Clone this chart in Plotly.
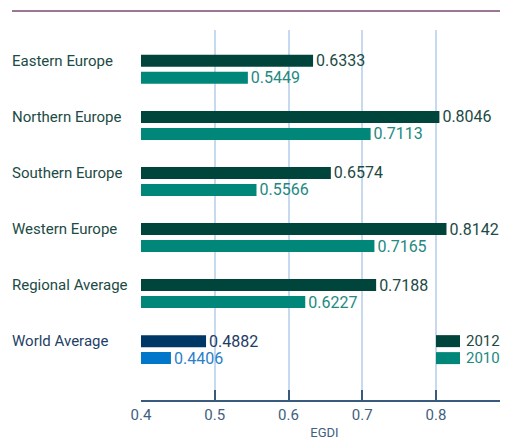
import plotly.graph_objects as go

categories = ['Eastern Europe', 'Northern Europe', 'Southern Europe',
              'Western Europe', 'Regional Average', 'World Average']
egdi_2012 = [0.6333, 0.8046, 0.6574, 0.8142, 0.7188, 0.4882]
egdi_2010 = [0.5449, 0.7113, 0.5566, 0.7165, 0.6227, 0.4406]
years = ['2012', '2010']

# colours: regional rows in greens, the world row in blues
bar_2012 = ['#00453b'] * 5 + ['#003865']
bar_2010 = ['#00877a'] * 5 + ['#0077c8']
txt_2012 = ['#1d4a45'] * 5 + ['#1e3d64']
txt_2010 = ['#23897f'] * 5 + ['#2a80c8']
label_colors = ['#1c4b45'] * 5 + ['#1e3f66']

FONT = 'Roboto'
BAR_W = 0.214

fig = go.Figure()
for vals, colors, tcolors, off in [(egdi_2012, bar_2012, txt_2012, -BAR_W / 2),
                                   (egdi_2010, bar_2010, txt_2010, 0.303 - BAR_W / 2)]:
    fig.add_trace(go.Bar(
        y=categories, x=vals, orientation='h',
        width=BAR_W, offset=off,
        marker=dict(color=colors, line=dict(width=0)),
        texttemplate='%{x:.4f}', textposition='outside',
        textfont=dict(family=FONT, size=16, color=tcolors),
        constraintext='none', cliponaxis=False,
        showlegend=False, hoverinfo='skip',
    ))

# category labels, left aligned
for cat, col in zip(categories, label_colors):
    fig.add_annotation(x=-0.357, xref='paper', y=cat, yref='y', text=cat,
                       showarrow=False, xanchor='left',
                       font=dict(family=FONT, size=15, color=col))

# legend drawn by hand next to the world row
for i, (yr, col, tcol) in enumerate(zip(years, [bar_2012[0], bar_2010[0]], [txt_2012[0], txt_2010[0]])):
    yc = 5 + i * 0.303
    fig.add_shape(type='rect', xref='x', yref='y', x0=0.8, x1=0.8325,
                  y0=yc - BAR_W / 2, y1=yc + BAR_W / 2,
                  fillcolor=col, line=dict(width=0))
    fig.add_annotation(x=0.8395, xref='x', y=yc, yref='y', text=yr, showarrow=False,
                       xanchor='left', borderpad=0,
                       font=dict(family=FONT, size=15, color=tcol))

# top rule
fig.add_shape(type='line', xref='paper', yref='paper', x0=-0.3515, x1=1, y0=1.0514, y1=1.0514,
              line=dict(color='#7a4a72', width=1.5))

# the page adds an 8px body margin, so the figure is 8px smaller than the window
fig.update_layout(
    width=500, height=432,
    margin=dict(l=133, r=0, t=22, b=40),
    paper_bgcolor='white', plot_bgcolor='white',
    barmode='overlay',
    font=dict(family=FONT),
    xaxis=dict(range=[0.4, 0.8976], tickvals=[0.4, 0.5, 0.6, 0.7, 0.8],
               ticktext=['0.4', '0.5', '0.6', '0.7', '0.8'],
               showgrid=True, gridcolor='#c6d9ee', gridwidth=1.5,
               showline=True, linecolor='#3a5a7c', linewidth=1.5,
               ticks='inside', ticklen=10, tickcolor='#3a5a7c', tickwidth=1.5,
               tickfont=dict(family=FONT, size=15, color='#3f6080'),
               zeroline=False,
               title=dict(text='EGDI', standoff=8, font=dict(family=FONT, size=13, color='#3f6080'))),
    yaxis=dict(range=[6.05, -0.55], showticklabels=False, showgrid=False,
               showline=False, zeroline=False, ticks=''),
)

fig.write_html('out.html')
